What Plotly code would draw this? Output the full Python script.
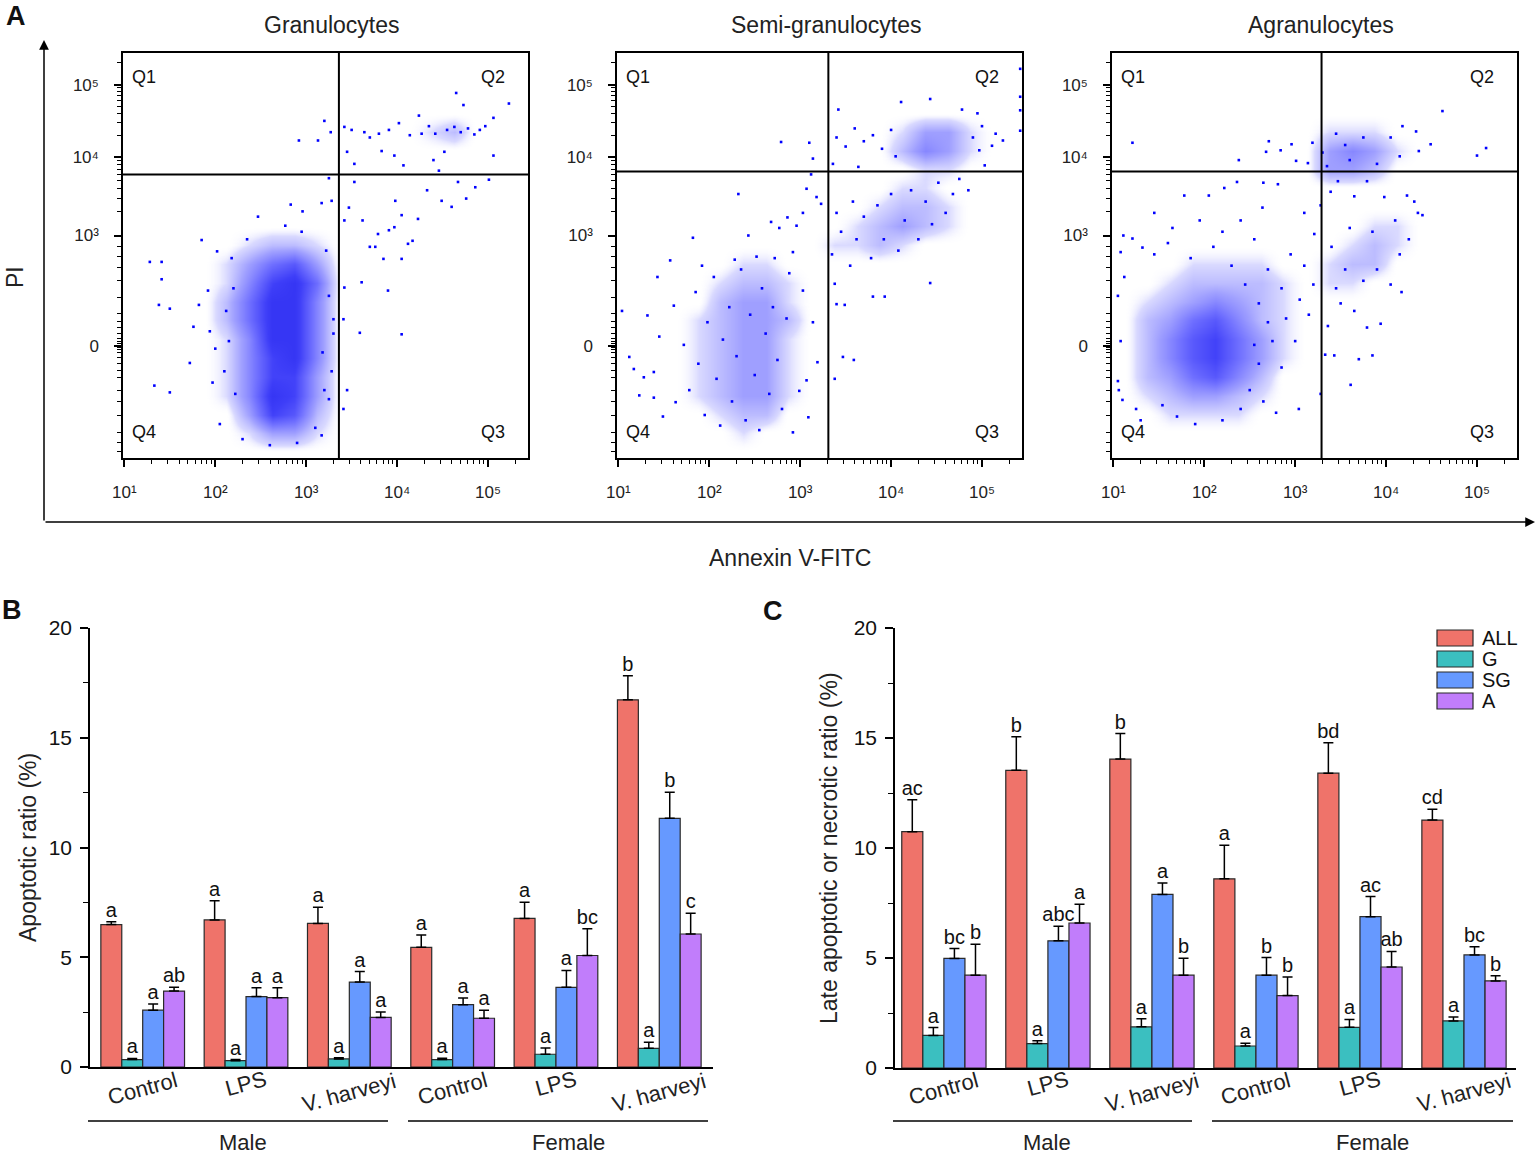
import math
import plotly.graph_objects as go

W, H = 1536, 1155
def X(px): return px / W
def Y(py): return 1 - py / H
FONT = "Liberation Sans, Arial, sans-serif"

# ======================= Panel A : flow cytometry =======================
panel_titles = ["Granulocytes", "Semi-granulocytes", "Agranulocytes"]
quad_x = [3.36, 3.31, 3.29]          # Annexin gate (log10 units)
quad_y = [3.81, 3.85, 3.85]          # PI gate (display units)
x_tick_vals = [1, 2, 3, 4, 5]
x_tick_text = ["10\u00b9", "10\u00b2", "10\u00b3", "10\u2074", "10\u2075"]
y_tick_vals = [1.54, 3.0, 4.04, 5.0]
y_tick_text = ["0", "10\u00b3", "10\u2074", "10\u2075"]

# density grid bin centres (x: log10 Annexin V ; y: PI display units)
bin_x = [1.125, 1.375, 1.625, 1.875, 2.125, 2.375, 2.625, 2.875, 3.125,
         3.375, 3.625, 3.875, 4.125, 4.375, 4.625, 4.875, 5.125, 5.375]
bin_y = [0.125, 0.375, 0.625, 0.875, 1.125, 1.375, 1.625, 1.875, 2.125, 2.375, 2.625,
         2.875, 3.125, 3.375, 3.625, 3.875, 4.125, 4.375, 4.625, 4.875, 5.125, 5.375]

# event density (rows listed top -> bottom)
dens_G = [
    "000000000000000000", "000000000000000000", "000000000000000000", "000000000000000000",
    "000000000000012000", "000000000000000000", "000000000000000000", "000000000000000000",
    "000000000000000000", "000000000000000000", "000001221000000000", "000013563000000000",
    "000014785000000000", "000025884000000000", "000025884000000000", "000014884000000000",
    "000014784000000000", "000014773000000000", "000014873000000000", "000003762000000000",
    "000001331000000000", "000000000000000000"]
dens_SG = [
    "000000000000000000", "000000000000000000", "000000000000000000", "000000000000000000",
    "000000000000133100", "000000000000243100", "000000000000011000", "000000000000110000",
    "000000000001221000", "000000000012321000", "000000000112100000", "000001100000000000",
    "000012210000000000", "000023310000000000", "000123320000000000", "000123310000000000",
    "000123310000000000", "000123310000000000", "000123310000000000", "000012200000000000",
    "000001000000000000", "000000000000000000"]
dens_A = [
    "000000000000000000", "000000000000000000", "000000000000000000", "000000000000000000",
    "000000000111000000", "000000000343100000", "000000000332000000", "000000000000000000",
    "000000000000000000", "000000000001100000", "000000000012100000", "000111100122000000",
    "001222210110000000", "012343210000000000", "023564210000000000", "024675310000000000",
    "024675310000000000", "023564200000000000", "012332100000000000", "001111000000000000",
    "000000000000000000", "000000000000000000"]

# individual sparse events (log10 Annexin V, PI display units)
events_G = [
    (1.28, 2.65), (1.41, 2.65), (1.41, 2.42), (1.38, 2.08), (1.50, 2.03), (1.33, 1.01), (1.50, 0.92),
    (1.72, 1.31), (1.76, 1.79), (1.82, 2.08), (1.85, 2.94), (1.92, 2.27), (2.00, 1.50), (1.97, 1.05),
    (2.05, 0.50), (2.02, 2.79), (1.94, 1.73), (2.47, 3.25), (2.83, 3.41), (2.77, 3.13), (2.96, 3.32),
    (3.17, 3.43), (3.25, 3.76), (3.28, 3.46), (3.42, 3.20), (3.47, 3.37), (3.53, 3.71), (3.62, 3.20),
    (3.70, 2.85), (3.76, 2.85), (3.79, 3.02), (3.85, 2.69), (3.91, 3.07), (3.97, 3.11), (3.98, 3.46),
    (4.05, 2.69), (4.05, 3.27), (4.12, 2.89), (4.17, 2.93), (4.23, 3.22), (4.33, 3.60), (4.49, 3.46),
    (4.60, 3.38), (4.67, 3.71), (4.76, 3.49), (4.86, 3.64), (5.01, 3.74), (3.59, 1.71), (4.05, 1.69),
    (3.90, 2.27), (3.42, 2.31), (3.61, 2.38), (3.41, 1.89), (3.45, 0.95), (3.41, 0.70), (3.30, 1.89),
    (3.25, 0.83), (3.17, 0.35), (4.65, 4.89), (4.73, 4.73), (5.23, 4.75), (5.06, 4.56), (4.24, 4.59),
    (3.20, 4.52), (2.92, 4.26), (3.13, 4.26), (3.27, 4.37), (3.42, 4.44), (3.45, 4.11), (3.53, 3.95),
    (3.83, 4.12), (3.97, 4.06), (4.07, 3.93), (4.40, 4.00), (4.46, 3.86), (4.52, 4.11), (5.06, 4.06),
    (3.64, 4.37), (3.80, 4.35), (3.91, 4.40), (4.02, 4.49), (4.14, 4.33), (4.27, 4.35), (4.42, 4.35),
    (4.55, 4.40), (4.63, 4.44), (4.70, 4.37), (4.78, 4.42), (4.91, 4.40), (4.97, 4.45), (3.50, 4.40),
    (3.70, 4.30), (4.35, 4.45), (4.85, 4.34), (2.15, 1.60), (2.20, 2.30), (2.22, 0.90), (2.18, 2.70),
    (3.28, 1.20), (3.25, 2.20), (3.22, 2.80), (3.30, 1.70), (2.30, 0.30), (2.90, 0.25), (2.60, 0.22),
    (3.10, 0.45), (2.35, 2.95), (2.95, 3.05), (2.10, 1.20), (2.12, 2.00), (3.18, 1.45), (3.20, 0.95)]
events_SG = [
    (1.04, 2.00), (1.12, 1.39), (1.17, 1.23), (1.23, 0.88), (1.32, 1.94), (1.28, 1.12), (1.39, 1.19),
    (1.39, 0.85), (1.43, 2.45), (1.45, 1.66), (1.49, 0.60), (1.57, 2.67), (1.61, 2.07), (1.63, 0.79),
    (1.82, 2.97), (2.32, 3.55), (2.43, 3.00), (2.68, 3.18), (2.77, 3.10), (2.86, 3.24), (2.96, 3.13),
    (3.03, 3.30), (3.07, 3.62), (3.12, 3.81), (3.18, 3.51), (3.23, 3.42), (2.92, 2.78), (3.03, 2.27),
    (3.14, 1.85), (3.19, 1.32), (3.07, 1.08), (3.09, 0.59), (2.92, 0.39), (2.99, 0.94), (3.38, 2.36),
    (3.40, 2.09), (3.49, 2.08), (3.80, 2.19), (3.93, 2.19), (3.47, 1.39), (3.59, 1.35), (3.38, 1.10),
    (4.43, 2.37), (2.79, 4.24), (3.10, 4.23), (3.14, 4.02), (3.42, 4.67), (4.11, 4.77), (4.43, 4.81),
    (4.78, 4.67), (4.95, 4.62), (5.42, 5.21), (5.42, 4.84), (5.42, 4.66), (5.42, 4.39), (5.11, 4.19),
    (5.23, 4.26), (4.97, 4.13), (5.03, 3.93), (3.64, 3.91), (3.36, 3.95),
    (1.72, 1.55), (1.78, 0.95), (1.85, 2.25), (1.88, 1.30), (1.95, 0.62), (1.98, 1.85), (2.05, 2.45),
    (2.08, 1.10), (2.12, 0.48), (2.15, 1.62), (2.22, 2.05), (2.25, 0.80), (2.30, 1.40), (2.35, 2.55),
    (2.40, 0.55), (2.45, 1.95), (2.50, 1.15), (2.55, 0.42), (2.58, 2.30), (2.62, 1.70), (2.66, 0.90),
    (2.70, 2.05), (2.75, 1.35), (2.80, 0.70), (2.85, 1.90), (2.88, 2.50), (2.72, 2.70), (2.52, 2.72),
    (2.28, 2.68), (1.92, 2.60),
    (3.35, 2.75), (3.45, 3.05), (3.55, 2.60), (3.62, 2.95), (3.70, 3.25), (3.78, 2.70), (3.85, 3.40),
    (3.92, 2.95), (4.00, 3.55), (4.08, 2.80), (4.15, 3.20), (4.22, 3.60), (4.30, 2.95), (4.38, 3.45),
    (4.45, 3.15), (4.52, 3.70), (4.60, 3.30), (4.68, 3.55), (4.75, 3.75), (4.85, 3.60), (3.40, 3.30),
    (3.58, 3.45), (3.40, 4.30), (3.50, 4.18), (3.60, 4.42), (3.70, 4.25), (3.80, 4.33), (3.90, 4.15),
    (4.00, 4.40), (4.05, 4.05), (4.90, 4.30), (5.00, 4.45), (5.15, 4.35)]
events_A = [
    (1.21, 4.23), (2.38, 4.00), (2.71, 4.25), (2.68, 4.11), (2.84, 4.13), (2.96, 4.21), (3.01, 3.99),
    (3.14, 3.96), (3.19, 4.23), (4.62, 4.65), (5.00, 4.06), (5.10, 4.16), (4.49, 4.21), (4.36, 4.12),
    (4.33, 4.38), (4.18, 4.45), (3.47, 3.72), (3.79, 3.72), (3.39, 3.58), (3.65, 3.52), (3.98, 3.51),
    (4.23, 3.53), (4.40, 3.27), (4.31, 3.45), (4.17, 2.25), (3.94, 1.83), (3.79, 1.78), (3.85, 1.41),
    (3.70, 1.36), (3.61, 1.02), (3.33, 1.42), (3.43, 1.41), (3.36, 1.80), (3.28, 0.90), (3.04, 0.70),
    (2.79, 0.65), (1.11, 3.00), (1.21, 2.96), (1.08, 2.78), (1.32, 2.84), (1.78, 3.53), (2.05, 3.53),
    (2.22, 3.63), (2.36, 3.71), (2.65, 3.70), (2.81, 3.68), (2.64, 3.37), (3.10, 3.30), (3.21, 3.02),
    (3.28, 3.40), (1.10, 0.82), (1.25, 0.70), (1.05, 1.07), (1.54, 0.75),
    (2.55, 2.95), (2.70, 2.55), (2.85, 2.30), (2.95, 2.75), (3.05, 2.15), (2.90, 1.90), (2.75, 1.60),
    (2.60, 1.30), (2.85, 1.25), (3.00, 1.60), (2.50, 0.95), (2.65, 0.80), (3.10, 2.60), (3.20, 2.35),
    (3.15, 1.95), (2.40, 3.20), (2.20, 3.05), (1.95, 3.20), (1.65, 3.10), (1.45, 3.30), (3.45, 2.30),
    (3.55, 2.55), (3.50, 2.10), (3.65, 2.00), (3.75, 2.40), (3.90, 2.55), (4.05, 2.35), (4.15, 2.75),
    (4.25, 2.95), (3.40, 2.85), (3.60, 3.10), (3.85, 3.05), (4.10, 3.20), (4.35, 3.30), (3.30, 4.10),
    (3.45, 4.35), (3.60, 4.00), (3.75, 4.30), (3.90, 3.95), (4.05, 4.30), (4.15, 4.05), (3.35, 3.92),
    (3.55, 4.20), (1.05, 2.20), (1.08, 1.60), (1.12, 2.45), (1.06, 0.95), (1.30, 0.55), (1.45, 2.75),
    (1.60, 2.90), (1.85, 2.70), (2.10, 2.85), (2.30, 2.60), (2.45, 2.35), (2.60, 2.10), (2.70, 1.85),
    (2.55, 1.55), (2.40, 0.70), (2.20, 0.55), (1.90, 0.50), (1.70, 0.60)]

# ======================= Panels B and C : bar charts =======================
groups = ["Control", "LPS", "V. harveyi", "Control", "LPS", "V. harveyi"]
sexes = ["Male", "Female"]
series = ["ALL", "G", "SG", "A"]
colors = ["#EF736A", "#3BBFC0", "#6699FF", "#C17DFB"]

B_vals = {
    "ALL": [6.49, 6.70, 6.54, 5.45, 6.77, 16.73],
    "G":   [0.34, 0.29, 0.37, 0.34, 0.58, 0.85],
    "SG":  [2.59, 3.21, 3.87, 2.84, 3.63, 11.33],
    "A":   [3.46, 3.16, 2.26, 2.22, 5.08, 6.06]}
B_err = {
    "ALL": [0.13, 0.87, 0.74, 0.56, 0.74, 1.09],
    "G":   [0.05, 0.05, 0.05, 0.06, 0.29, 0.28],
    "SG":  [0.28, 0.40, 0.48, 0.30, 0.77, 1.19],
    "A":   [0.17, 0.45, 0.25, 0.36, 1.22, 0.95]}
B_letters = {
    "ALL": ["a", "a", "a", "a", "a", "b"],
    "G":   ["a", "a", "a", "a", "a", "a"],
    "SG":  ["a", "a", "a", "a", "a", "b"],
    "A":   ["ab", "a", "a", "a", "bc", "c"]}

C_vals = {
    "ALL": [10.74, 13.53, 14.04, 8.60, 13.40, 11.27],
    "G":   [1.48, 1.11, 1.87, 1.00, 1.85, 2.14],
    "SG":  [4.98, 5.78, 7.89, 4.22, 6.88, 5.14],
    "A":   [4.22, 6.59, 4.22, 3.29, 4.59, 3.96]}
C_err = {
    "ALL": [1.45, 1.53, 1.16, 1.53, 1.38, 0.49],
    "G":   [0.36, 0.13, 0.37, 0.13, 0.36, 0.18],
    "SG":  [0.45, 0.66, 0.52, 0.80, 0.91, 0.37],
    "A":   [1.40, 0.85, 0.77, 0.85, 0.71, 0.23]}
C_letters = {
    "ALL": ["ac", "b", "b", "a", "bd", "cd"],
    "G":   ["a", "a", "a", "a", "a", "a"],
    "SG":  ["bc", "abc", "a", "b", "ac", "bc"],
    "A":   ["b", "a", "b", "b", "ab", "b"]}

# ============================ build figure ============================
fig = go.Figure()
annotations = []
shapes = []
layout_axes = {}

def txt(text, px, py, size, angle=0, xa="center", ya="middle", color="#222"):
    annotations.append(dict(text=text, xref="paper", yref="paper", x=X(px), y=Y(py),
                            xanchor=xa, yanchor=ya, textangle=angle, showarrow=False,
                            font=dict(size=size, color=color)))

colorscale = [[0.0, "rgba(255,255,255,0)"], [0.11, "#dadaff"], [0.33, "#a0a0ff"],
              [0.55, "#7070ff"], [0.8, "#3e3ef8"], [1.0, "#2c2cee"]]

x_minor = []
for dec in [1, 2, 3, 4, 5]:
    for k in [2, 3, 4, 5, 6, 7, 8, 9]:
        v = dec + math.log10(k)
        if v < 5.44:
            x_minor.append(v)
y_minor = [3 + 1.04 * math.log10(k) for k in range(2, 10)] + \
          [4.04 + 0.96 * math.log10(k) for k in range(2, 10)] + [5 + 0.96 * math.log10(2)] + \
          [2.85, 2.72, 2.58, 2.40, 2.18, 1.96, 1.86, 1.78, 1.70, 1.64, 1.59, 1.57, 1.51, 1.49,
           1.45, 1.38, 1.30, 1.21, 1.12, 0.95, 0.80, 0.62, 0.39, 0.25, 0.14]

frames = [(123, 528), (617, 1022), (1112, 1517)]
dens_all = [dens_G, dens_SG, dens_A]
events_all = [events_G, events_SG, events_A]

for p in range(3):
    idx = p + 1
    xs = "" if idx == 1 else str(idx)
    z = [[int(c) for c in row] for row in reversed(dens_all[p])]
    fig.add_trace(go.Heatmap(x=bin_x, y=bin_y, z=z, zmin=0, zmax=9, zsmooth="best",
                             colorscale=colorscale, showscale=False, hoverinfo="skip",
                             xaxis="x" + xs, yaxis="y" + xs))
    ev = events_all[p]
    fig.add_trace(go.Scatter(x=[e[0] for e in ev], y=[e[1] for e in ev], mode="markers",
                             marker=dict(size=2.6, color="#0000ff", symbol="square"),
                             showlegend=False, hoverinfo="skip",
                             xaxis="x" + xs, yaxis="y" + xs))
    x0, x1 = frames[p]
    layout_axes["xaxis" + xs] = dict(
        domain=[X(x0), X(x1)], range=[0.985, 5.44], anchor="y" + xs, automargin=False,
        tickvals=x_tick_vals, ticktext=x_tick_text, ticks="outside", ticklen=7, tickwidth=1.5,
        tickcolor="black", showline=True, mirror=True, linewidth=1.5, linecolor="black",
        showgrid=False, zeroline=False, tickfont=dict(size=17, color="#222"),
        ticklabelstandoff=11,
        minor=dict(tickvals=x_minor, ticks="outside", ticklen=4, tickwidth=1, tickcolor="black",
                   showgrid=False))
    layout_axes["yaxis" + xs] = dict(
        domain=[Y(458), Y(53)], range=[0.05, 5.42], anchor="x" + xs, automargin=False,
        tickvals=y_tick_vals, ticktext=y_tick_text, ticks="outside", ticklen=7, tickwidth=1.5,
        tickcolor="black", showline=True, mirror=True, linewidth=1.5, linecolor="black",
        showgrid=False, zeroline=False, tickfont=dict(size=17, color="#222"),
        ticklabelstandoff=12,
        minor=dict(tickvals=y_minor, ticks="outside", ticklen=4, tickwidth=1, tickcolor="black",
                   showgrid=False))
    # quadrant gates
    shapes.append(dict(type="line", xref="x" + xs, yref="y" + xs + " domain",
                       x0=quad_x[p], x1=quad_x[p], y0=0, y1=1, line=dict(color="black", width=2)))
    shapes.append(dict(type="line", xref="x" + xs + " domain", yref="y" + xs,
                       x0=0, x1=1, y0=quad_y[p], y1=quad_y[p], line=dict(color="black", width=2)))
    for lab, xx, yy, xa in [("Q1", 0.018, 0.94, "left"), ("Q2", 0.948, 0.94, "right"),
                            ("Q4", 0.018, 0.064, "left"), ("Q3", 0.948, 0.064, "right")]:
        annotations.append(dict(text=lab, xref="x" + xs + " domain", yref="y" + xs + " domain",
                                x=xx, y=yy, xanchor=xa, yanchor="middle", showarrow=False,
                                font=dict(size=18, color="#111")))
    txt(panel_titles[p], (x0 + x1) / 2 + 6, 25, 23)

# big axis arrows for panel A
annotations.append(dict(x=X(44), y=Y(40), xref="paper", yref="paper", ax=0, ay=482,
                        axref="pixel", ayref="pixel", text="", showarrow=True,
                        arrowhead=2, arrowsize=1.3, arrowwidth=1.5, arrowcolor="black"))
annotations.append(dict(x=X(1535), y=Y(522), xref="paper", yref="paper", ax=-1491, ay=0,
                        axref="pixel", ayref="pixel", text="", showarrow=True,
                        arrowhead=2, arrowsize=1.3, arrowwidth=1.5, arrowcolor="black"))
txt("PI", 15, 277, 23, angle=-90)
txt("Annexin V-FITC", 790, 558, 23)

# ---------------- bar panels ----------------
bar_w = 0.81 / 4
bar_panels = [
    dict(ax="4", vals=B_vals, err=B_err, letters=B_letters, xdom=(90, 713), xr=[-0.51, 5.52],
         ybot=1067, ytop=628, ytitle="Apoptotic ratio (%)", ytx=28,
         male=(88, 388), female=(408, 708), male_lab=243, female_lab=568),
    dict(ax="5", vals=C_vals, err=C_err, letters=C_letters, xdom=(895, 1516), xr=[-0.47, 5.50],
         ybot=1068, ytop=628, ytitle="Late apoptotic or necrotic ratio (%)", ytx=829,
         male=(893, 1192), female=(1212, 1513), male_lab=1047, female_lab=1372),
]
cat_pos = [0, 1, 2, 3, 4, 5]
for bp in bar_panels:
    a = bp["ax"]
    for k, s in enumerate(series):
        fig.add_trace(go.Bar(
            x=cat_pos, y=bp["vals"][s], name=s, marker=dict(color=colors[k],
            line=dict(color="#2a2a2a", width=1.2)), textposition="none",
            error_y=dict(type="data", symmetric=False, array=bp["err"][s],
                         arrayminus=[0] * 6, color="black", thickness=1.5, width=5),
            xaxis="x" + a, yaxis="y" + a, showlegend=False, hoverinfo="skip"))
    for k, s in enumerate(series):
        fig.add_trace(go.Scatter(
            x=[c + (k - 1.5) * bar_w for c in cat_pos],
            y=[v + e for v, e in zip(bp["vals"][s], bp["err"][s])],
            mode="text", text=bp["letters"][s], textposition="top center",
            textfont=dict(size=20, color="#111"),
            xaxis="x" + a, yaxis="y" + a, showlegend=False, hoverinfo="skip", cliponaxis=False))
    layout_axes["xaxis" + a] = dict(
        domain=[X(bp["xdom"][0]), X(bp["xdom"][1])], range=bp["xr"], anchor="y" + a,
        showline=True, linewidth=1.5, linecolor="black", ticks="", showticklabels=False,
        showgrid=False, zeroline=False, automargin=False)
    layout_axes["yaxis" + a] = dict(
        domain=[Y(bp["ybot"]), Y(bp["ytop"])], range=[0, 20], anchor="x" + a, automargin=False,
        tickvals=[0, 5, 10, 15, 20], ticks="outside", ticklen=8, tickwidth=1.5,
        tickcolor="black", showline=True, linewidth=1.5, linecolor="black",
        showgrid=False, zeroline=False, tickfont=dict(size=21, color="#111"),
        ticklabelstandoff=4,
        minor=dict(tickvals=[2.5, 7.5, 12.5, 17.5], ticks="outside", ticklen=5, tickwidth=1.2,
                   tickcolor="black", showgrid=False))
    # category labels (rotated)
    cat_y = [1088, 1083, 1092, 1088, 1083, 1092]
    for i in range(6):
        annotations.append(dict(text=groups[i], xref="x" + a, yref="paper", x=cat_pos[i],
                                y=Y(cat_y[i]), textangle=-15, showarrow=False,
                                xanchor="center", yanchor="middle",
                                font=dict(size=22, color="#222")))
    for (l0, l1) in [bp["male"], bp["female"]]:
        shapes.append(dict(type="line", xref="paper", yref="paper", x0=X(l0), x1=X(l1),
                           y0=Y(1121), y1=Y(1121), line=dict(color="black", width=1.5)))
    txt(sexes[0], bp["male_lab"], 1142, 22)
    txt(sexes[1], bp["female_lab"], 1142, 22)
    txt(bp["ytitle"], bp["ytx"], 848, 23, angle=-90)

# legend for panel C
leg_rows = [638, 659, 680, 701]
for k, s in enumerate(series):
    shapes.append(dict(type="rect", xref="paper", yref="paper", x0=X(1437), x1=X(1473),
                       y0=Y(leg_rows[k] + 8), y1=Y(leg_rows[k] - 8),
                       fillcolor=colors[k], line=dict(color="#2a2a2a", width=1.2)))
    txt(s, 1480, leg_rows[k], 20, xa="left", color="#111")

# panel letters
for lab, px, py in [("A", 16, 16), ("B", 12, 610), ("C", 773, 611)]:
    txt("<b>" + lab + "</b>", px, py, 27, color="#111")

fig.update_layout(
    template="none",
    width=W, height=H, autosize=False,
    margin=dict(l=0, r=0, t=0, b=0, pad=0, autoexpand=False),
    paper_bgcolor="white", plot_bgcolor="white",
    font=dict(family=FONT, color="#222"),
    barmode="group", bargap=0.19, bargroupgap=0,
    showlegend=False,
    annotations=annotations, shapes=shapes,
    **layout_axes)

fig.write_html("out.html", config={"displayModeBar": False},
               post_script="document.body.style.margin='0px';document.body.style.padding='0px';"
                           "document.documentElement.style.overflow='hidden';")
